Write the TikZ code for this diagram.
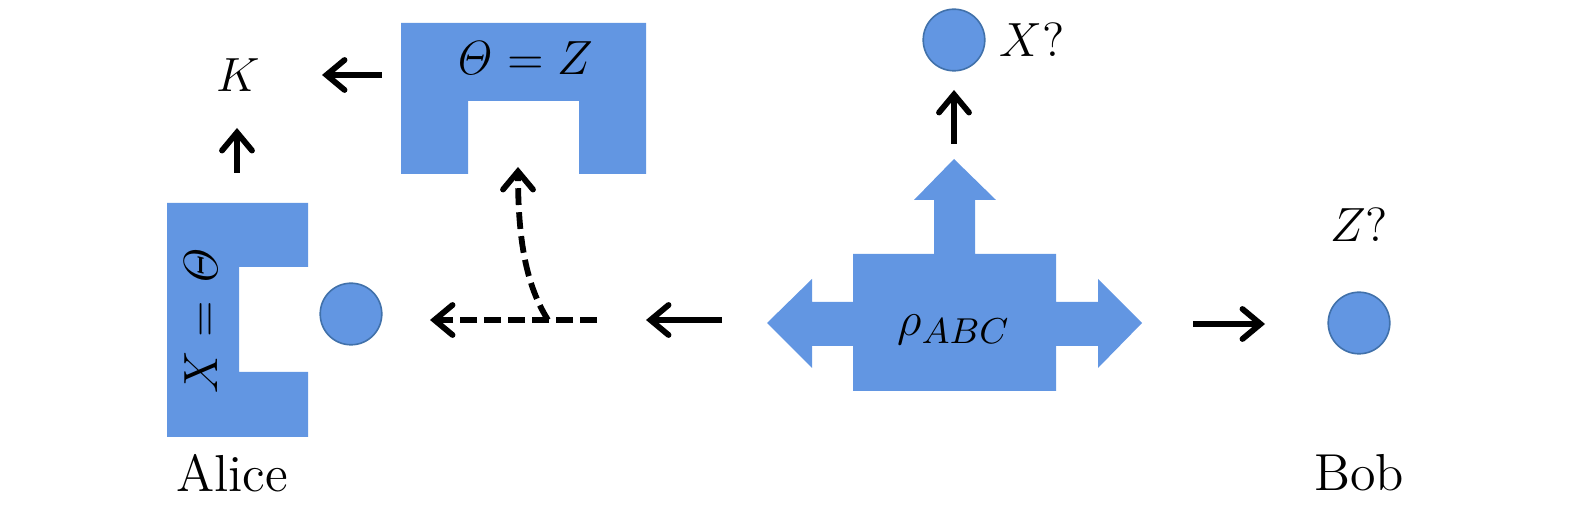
\documentclass[tikz,border=0pt]{standalone}
\usepackage{tikz}
\usetikzlibrary{arrows.meta, positioning}
\usepackage{xcolor}
\definecolor{stateblue}{RGB}{98, 150, 226}
\definecolor{rimblue}{RGB}{65, 113, 170}

\begin{document}
\begin{tikzpicture}[
    x=0.25pt, y=-0.25pt,
    font=\fontsize{13}{16}\selectfont,
    qubit/.style={circle, fill=stateblue, draw=rimblue, line width=0.4pt, minimum size=15.4pt, inner sep=0pt},
    arr/.style={line width=1.45pt, -{Straight Barb[length=4.5pt, width=7.5pt, line cap=round]}},
    darr/.style={arr, dash pattern=on 4.2pt off 1.8pt}
]
\useasboundingbox (0,0) rectangle (1575,512);

\fill[stateblue] (167,203) -- (308,203) -- (308,267) -- (239,267) -- (239,372) -- (308,372) -- (308,437) -- (167,437) -- cycle;
\fill[stateblue] (401,23) -- (646,23) -- (646,174) -- (579,174) -- (579,101) -- (468,101) -- (468,174) -- (401,174) -- cycle;
\fill[stateblue] (767,323) -- (812,279) -- (812,302) -- (853,302) -- (853,254) -- (934,254) -- (934,200) -- (914,200)
    -- (954,159) -- (996,200) -- (975,200) -- (975,254) -- (1056,254) -- (1056,302) -- (1098,302) -- (1098,279)
    -- (1142,323) -- (1098,368) -- (1098,346) -- (1056,346) -- (1056,391) -- (853,391) -- (853,346) -- (812,346)
    -- (812,368) -- cycle;

\node[rotate=90] (alicemeas) at (201,320) {$X=\mathit{\Theta}$};
\node (bobmeas) at (523,58) {$\mathit{\Theta}=Z$};
\node (key) at (238,75) {$K$};
\node (rho) at (954,330) {$\rho_{ABC}$};
\node (alice) at (232,473) {Alice};
\node (bob) at (1359,473) {Bob};

\node[qubit] (qa) at (351,314) {};
\node[qubit] (qe) at (954,40) {};
\node[right=0pt of qe] (guessx) {$X?$};
\node[qubit] (qb) at (1359,323) {};
\node[above=9pt of qb] (guessz) {$Z?$};

\coordinate (upA) at (237,173);
\coordinate (tipA) at (237,128);
\coordinate (keyS) at (382,75);
\coordinate (keyT) at (322,75);
\coordinate (eveS) at (954,144);
\coordinate (eveT) at (954,90);
\coordinate (leftS) at (722,320);
\coordinate (leftT) at (646,320);
\coordinate (dashS) at (597,320);
\coordinate (dashT) at (430,320);
\coordinate (bendS) at (548,320);
\coordinate (bendT) at (518,167);
\coordinate (rightS) at (1193,324);
\coordinate (rightT) at (1265,324);

\draw[arr] (upA) -- (tipA);
\draw[arr] (keyS) -- (keyT);
\draw[arr] (eveS) -- (eveT);
\draw[arr] (leftS) -- (leftT);
\draw[arr] (rightS) -- (rightT);
\draw[darr] (dashS) -- (dashT);
\draw[darr] (bendS) .. controls (526,285) and (518,240) .. (bendT);
\end{tikzpicture}
\end{document}
